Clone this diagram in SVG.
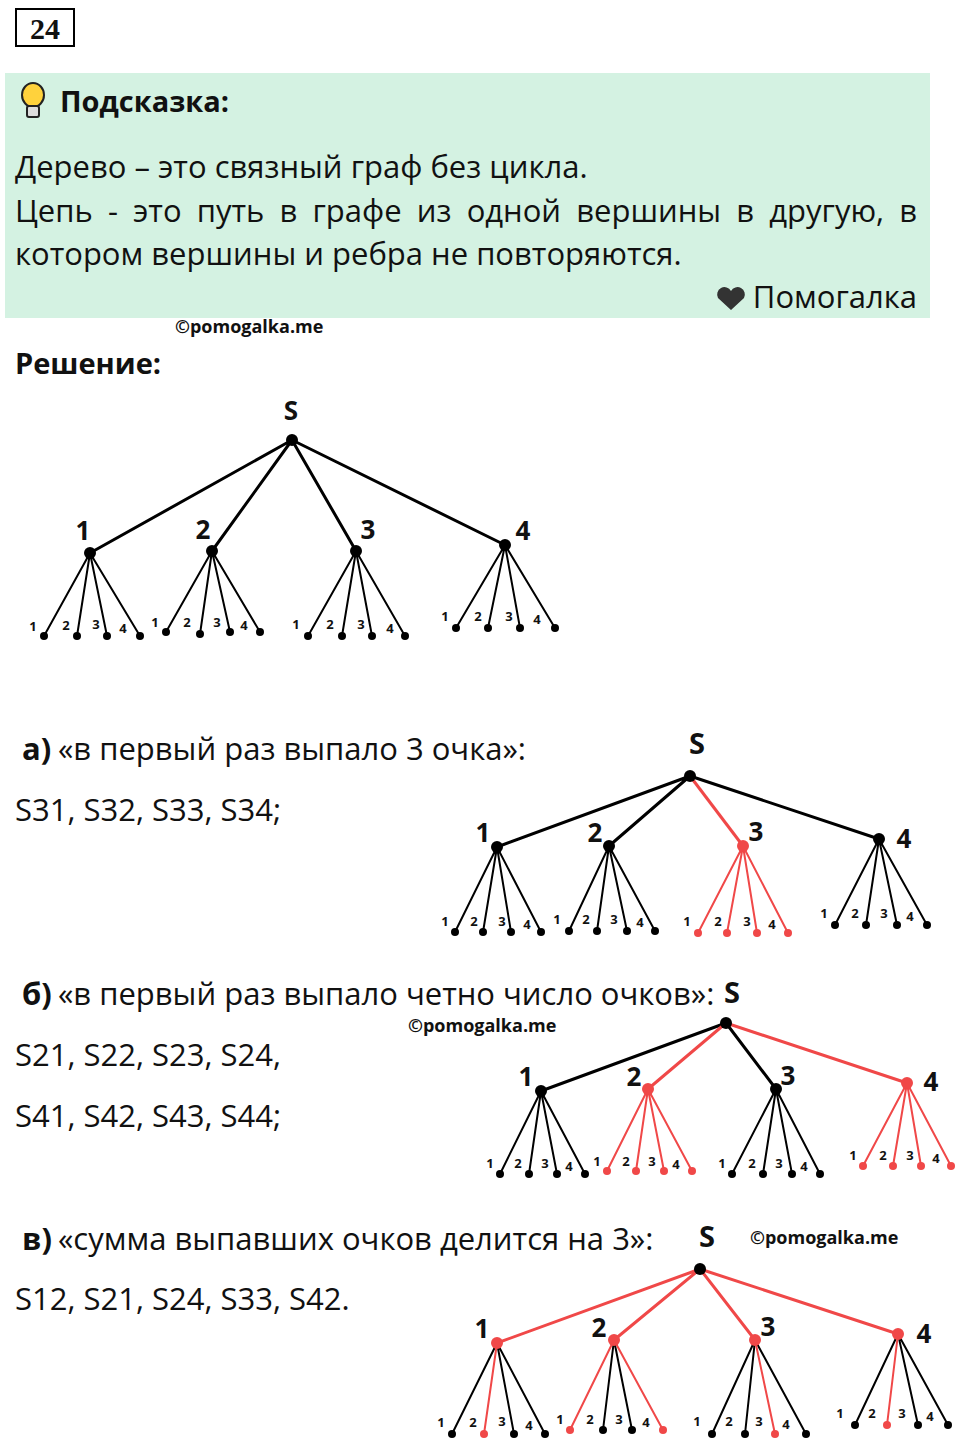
<svg xmlns="http://www.w3.org/2000/svg" width="960" height="1445" viewBox="0 0 960 1445">
<style>
text{font-family:"Open Sans","Noto Sans","DejaVu Sans",sans-serif;fill:#111}
.t{font-size:31px}
.b{font-weight:bold}
.wm{font-size:18px;font-weight:bold}
.lab{font-size:26px;font-weight:bold}
.sl{font-size:13px;font-weight:bold}
.k{stroke:#000;stroke-width:3;fill:none}
.kl{stroke:#000;stroke-width:2;fill:none}
.r{stroke:#f04848;stroke-width:3;fill:none}
.rl{stroke:#f04848;stroke-width:2;fill:none}
.dk{fill:#000}
.dr{fill:#f04848}
</style>
<rect x="16" y="9" width="58" height="37" fill="#fff" stroke="#000" stroke-width="2"/>
<text x="45" y="39" text-anchor="middle" style="font-family:'Liberation Serif',serif;font-size:30px;font-weight:bold">24</text>
<rect x="5" y="73" width="925" height="245" fill="#d4f2e2"/>
<g id="bulb">
<ellipse cx="33" cy="95" rx="11" ry="12" fill="#ffd23c" stroke="#222" stroke-width="2"/>
<rect x="27" y="106" width="12" height="11" rx="2" fill="#ddd" stroke="#222" stroke-width="2"/>
</g>
<text x="60" y="112" class="b" style="font-size:29px">Подсказка:</text>
<text x="15" y="178" class="t">Дерево – это связный граф без цикла.</text>
<text x="15" y="222" class="t" style="word-spacing:7.1px">Цепь - это путь в графе из одной вершины в другую, в</text>
<text x="15" y="265" class="t">котором вершины и ребра не повторяются.</text>
<path d="M731 310 L718 298 A6.5 6.5 0 0 1 731 291 A6.5 6.5 0 0 1 744 298 Z" fill="#333"/>
<text x="917" y="308" class="t" text-anchor="end">Помогалка</text>
<text x="175" y="333" class="wm">©pomogalka.me</text>
<text x="15" y="374" class="b" style="font-size:29px">Решение:</text>

<!-- Tree 1 -->
<g id="tree1-edges">
<path class="k" d="M292 440L90 553M292 440L212 551M292 440L356 551M292 440L505 545"/>
<path class="kl" d="M90 553L44 636M90 553L77 636M90 553L107 636M90 553L140 636M212 551L166 632M212 551L200 634M212 551L230 632M212 551L260 632M356 551L308 636M356 551L342 636M356 551L372 636M356 551L405 636M505 545L456 628M505 545L488 628M505 545L520 628M505 545L555 628"/>
</g>
<g id="tree1-nodes">
<circle class="dk" cx="292" cy="440" r="6"/><text x="291" y="420" class="lab" text-anchor="middle">S</text>
<circle class="dk" cx="90" cy="553" r="6"/><text x="83" y="540" class="lab" text-anchor="middle">1</text>
<circle class="dk" cx="212" cy="551" r="6"/><text x="203" y="539" class="lab" text-anchor="middle">2</text>
<circle class="dk" cx="356" cy="551" r="6"/><text x="368" y="539" class="lab" text-anchor="middle">3</text>
<circle class="dk" cx="505" cy="545" r="6"/><text x="523" y="540" class="lab" text-anchor="middle">4</text>
<g class="dk"><circle cx="44" cy="636" r="4"/><circle cx="77" cy="636" r="4"/><circle cx="107" cy="636" r="4"/><circle cx="140" cy="636" r="4"/><circle cx="166" cy="632" r="4"/><circle cx="200" cy="634" r="4"/><circle cx="230" cy="632" r="4"/><circle cx="260" cy="632" r="4"/><circle cx="308" cy="636" r="4"/><circle cx="342" cy="636" r="4"/><circle cx="372" cy="636" r="4"/><circle cx="405" cy="636" r="4"/><circle cx="456" cy="628" r="4"/><circle cx="488" cy="628" r="4"/><circle cx="520" cy="628" r="4"/><circle cx="555" cy="628" r="4"/></g>
<g class="sl" text-anchor="middle"><text x="33" y="631">1</text><text x="66" y="630">2</text><text x="96" y="629">3</text><text x="123" y="633">4</text><text x="155" y="627">1</text><text x="187" y="627">2</text><text x="217" y="627">3</text><text x="244" y="630">4</text><text x="296" y="629">1</text><text x="330" y="629">2</text><text x="361" y="629">3</text><text x="390" y="633">4</text><text x="445" y="621">1</text><text x="478" y="621">2</text><text x="509" y="621">3</text><text x="537" y="624">4</text></g>
</g>

<!-- a -->
<text x="22" y="760" class="t b">а)</text><text x="58" y="760" class="t">«в первый раз выпало 3 очка»:</text>
<text x="15" y="821" class="t">S31, S32, S33, S34;</text>
<g id="treeA-edges">
<path class="k" d="M690 776L497 847M690 776L609 846M690 776L879 839"/>
<path class="r" d="M690 776L743 846"/>
<path class="kl" d="M497 847L455 932M497 847L483 932M497 847L511 932M497 847L541 932M609 846L569 931M609 846L597 931M609 846L627 931M609 846L655 931M879 839L835 925M879 839L866 925M879 839L897 925M879 839L927 925"/>
<path class="rl" d="M743 846L698 933M743 846L727 933M743 846L757 933M743 846L788 933"/>
</g>
<g id="treeA-nodes">
<circle class="dk" cx="690" cy="776" r="6"/><text x="697" y="754" class="lab" text-anchor="middle" style="font-size:29px">S</text>
<circle class="dk" cx="497" cy="847" r="6"/><text x="483" y="842" class="lab" text-anchor="middle">1</text>
<circle class="dk" cx="609" cy="846" r="6"/><text x="595" y="842" class="lab" text-anchor="middle">2</text>
<circle class="dr" cx="743" cy="846" r="6"/><text x="756" y="841" class="lab" text-anchor="middle">3</text>
<circle class="dk" cx="879" cy="839" r="6"/><text x="904" y="848" class="lab" text-anchor="middle">4</text>
<g class="dk"><circle cx="455" cy="932" r="4"/><circle cx="483" cy="932" r="4"/><circle cx="511" cy="932" r="4"/><circle cx="541" cy="932" r="4"/><circle cx="569" cy="931" r="4"/><circle cx="597" cy="931" r="4"/><circle cx="627" cy="931" r="4"/><circle cx="655" cy="931" r="4"/><circle cx="835" cy="925" r="4"/><circle cx="866" cy="925" r="4"/><circle cx="897" cy="925" r="4"/><circle cx="927" cy="925" r="4"/></g>
<g class="dr"><circle cx="698" cy="933" r="4"/><circle cx="727" cy="933" r="4"/><circle cx="757" cy="933" r="4"/><circle cx="788" cy="933" r="4"/></g>
<g class="sl" text-anchor="middle"><text x="445" y="926">1</text><text x="474" y="926">2</text><text x="502" y="926">3</text><text x="527" y="929">4</text><text x="557" y="924">1</text><text x="586" y="924">2</text><text x="614" y="924">3</text><text x="640" y="927">4</text><text x="687" y="926">1</text><text x="718" y="926">2</text><text x="747" y="926">3</text><text x="772" y="929">4</text><text x="824" y="918">1</text><text x="855" y="918">2</text><text x="884" y="918">3</text><text x="910" y="921">4</text></g>
</g>

<!-- б -->
<text x="22" y="1005" class="t b">б)</text><text x="58" y="1005" class="t">«в первый раз выпало четно число очков»:</text>
<text x="15" y="1066" class="t">S21, S22, S23, S24,</text>
<text x="15" y="1127" class="t">S41, S42, S43, S44;</text>
<text x="408" y="1032" class="wm">©pomogalka.me</text>
<g id="treeB-edges">
<path class="k" d="M726 1023L541 1091M726 1023L776 1089"/>
<path class="r" d="M726 1023L648 1089M726 1023L907 1083"/>
<path class="kl" d="M541 1091L500 1174M541 1091L529 1174M541 1091L557 1174M541 1091L585 1174M776 1089L732 1174M776 1089L763 1174M776 1089L792 1174M776 1089L820 1174"/>
<path class="rl" d="M648 1089L607 1171M648 1089L636 1171M648 1089L664 1171M648 1089L692 1171M907 1083L863 1166M907 1083L893 1166M907 1083L921 1166M907 1083L951 1166"/>
</g>
<g id="treeB-nodes">
<circle class="dk" cx="726" cy="1023" r="6"/><text x="732" y="1003" class="lab" text-anchor="middle" style="font-size:29px">S</text>
<circle class="dk" cx="541" cy="1091" r="6"/><text x="526" y="1086" class="lab" text-anchor="middle">1</text>
<circle class="dr" cx="648" cy="1089" r="6"/><text x="634" y="1086" class="lab" text-anchor="middle">2</text>
<circle class="dk" cx="776" cy="1089" r="6"/><text x="788" y="1085" class="lab" text-anchor="middle">3</text>
<circle class="dr" cx="907" cy="1083" r="6"/><text x="931" y="1091" class="lab" text-anchor="middle">4</text>
<g class="dk"><circle cx="500" cy="1174" r="4"/><circle cx="529" cy="1174" r="4"/><circle cx="557" cy="1174" r="4"/><circle cx="585" cy="1174" r="4"/><circle cx="732" cy="1174" r="4"/><circle cx="763" cy="1174" r="4"/><circle cx="792" cy="1174" r="4"/><circle cx="820" cy="1174" r="4"/></g>
<g class="dr"><circle cx="607" cy="1171" r="4"/><circle cx="636" cy="1171" r="4"/><circle cx="664" cy="1171" r="4"/><circle cx="692" cy="1171" r="4"/><circle cx="863" cy="1166" r="4"/><circle cx="893" cy="1166" r="4"/><circle cx="921" cy="1166" r="4"/><circle cx="951" cy="1166" r="4"/></g>
<g class="sl" text-anchor="middle"><text x="490" y="1168">1</text><text x="518" y="1168">2</text><text x="545" y="1168">3</text><text x="569" y="1171">4</text><text x="597" y="1166">1</text><text x="626" y="1166">2</text><text x="652" y="1166">3</text><text x="676" y="1169">4</text><text x="722" y="1168">1</text><text x="752" y="1168">2</text><text x="779" y="1168">3</text><text x="804" y="1171">4</text><text x="853" y="1160">1</text><text x="883" y="1160">2</text><text x="910" y="1160">3</text><text x="936" y="1163">4</text></g>
</g>

<!-- в -->
<text x="22" y="1250" class="t b">в)</text><text x="58" y="1250" class="t">«сумма выпавших очков делится на 3»:</text>
<text x="15" y="1310" class="t">S12, S21, S24, S33, S42.</text>
<text x="750" y="1244" class="wm">©pomogalka.me</text>
<g id="treeC-edges">
<path class="r" d="M700 1269L497 1343M700 1269L614 1340M700 1269L755 1340M700 1269L898 1334"/>
<path class="kl" d="M497 1343L452 1434M497 1343L514 1434M497 1343L545 1434M614 1340L603 1430M614 1340L632 1430M755 1340L712 1434M755 1340L745 1434M755 1340L806 1434M898 1334L855 1425M898 1334L918 1425M898 1334L948 1425"/>
<path class="rl" d="M497 1343L484 1434M614 1340L570 1430M614 1340L663 1430M755 1340L775 1434M898 1334L887 1425"/>
</g>
<g id="treeC-nodes">
<circle class="dk" cx="700" cy="1269" r="6"/><text x="707" y="1247" class="lab" text-anchor="middle" style="font-size:29px">S</text>
<circle class="dr" cx="497" cy="1343" r="6"/><text x="482" y="1338" class="lab" text-anchor="middle">1</text>
<circle class="dr" cx="614" cy="1340" r="6"/><text x="599" y="1337" class="lab" text-anchor="middle">2</text>
<circle class="dr" cx="755" cy="1340" r="6"/><text x="768" y="1336" class="lab" text-anchor="middle">3</text>
<circle class="dr" cx="898" cy="1334" r="6"/><text x="924" y="1343" class="lab" text-anchor="middle">4</text>
<g class="dk"><circle cx="452" cy="1434" r="4"/><circle cx="514" cy="1434" r="4"/><circle cx="545" cy="1434" r="4"/><circle cx="603" cy="1430" r="4"/><circle cx="632" cy="1430" r="4"/><circle cx="712" cy="1434" r="4"/><circle cx="745" cy="1434" r="4"/><circle cx="806" cy="1434" r="4"/><circle cx="855" cy="1425" r="4"/><circle cx="918" cy="1425" r="4"/><circle cx="948" cy="1425" r="4"/></g>
<g class="dr"><circle cx="484" cy="1434" r="4"/><circle cx="570" cy="1430" r="4"/><circle cx="663" cy="1430" r="4"/><circle cx="775" cy="1434" r="4"/><circle cx="887" cy="1425" r="4"/></g>
<g class="sl" text-anchor="middle"><text x="441" y="1427">1</text><text x="473" y="1427">2</text><text x="502" y="1426">3</text><text x="529" y="1430">4</text><text x="560" y="1424">1</text><text x="590" y="1424">2</text><text x="619" y="1424">3</text><text x="646" y="1427">4</text><text x="697" y="1426">1</text><text x="729" y="1426">2</text><text x="759" y="1426">3</text><text x="786" y="1429">4</text><text x="840" y="1418">1</text><text x="872" y="1418">2</text><text x="902" y="1418">3</text><text x="930" y="1421">4</text></g>
</g>
</svg>
